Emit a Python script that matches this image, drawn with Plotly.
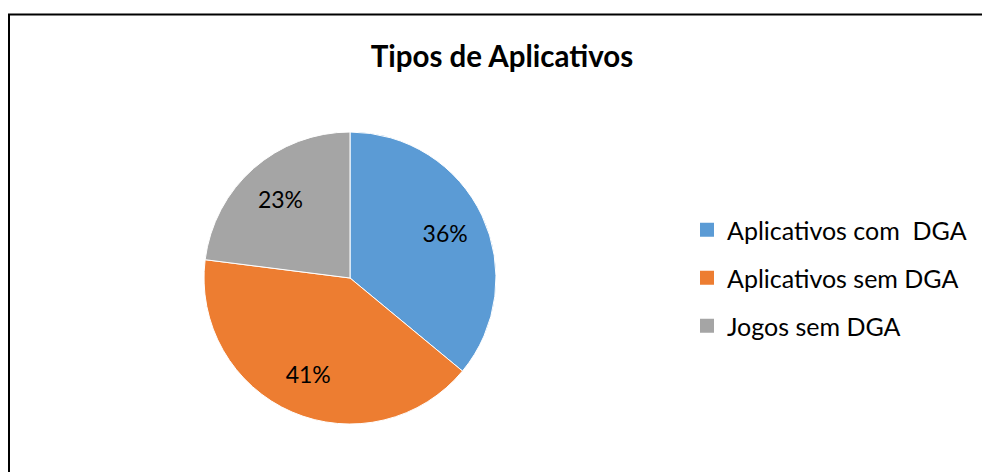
import plotly.graph_objects as go

categories = ["Aplicativos com\u00a0 DGA", "Aplicativos sem DGA", "Jogos sem DGA"]
values = [36, 41, 23]
colors = ["#5B9BD5", "#ED7D31", "#A5A5A5"]
title_text = "Tipos de Aplicativos"

W, H = 982, 472
FONT = "Lato, Calibri, Carlito, sans-serif"

fig = go.Figure()

cx, cy, r = 350, 278, 146
domain = dict(x=[(cx - r) / W, (cx + r) / W], y=[1 - (cy + r) / H, 1 - (cy - r) / H])

# filled pie (no text)
fig.add_trace(go.Pie(
    labels=categories, values=values, sort=False, direction="clockwise", rotation=0,
    marker=dict(colors=colors, line=dict(color="white", width=1)),
    textinfo="none", showlegend=False, hoverinfo="label+percent", domain=domain,
))
# transparent ring carrying the percentage labels further out in each slice
fig.add_trace(go.Pie(
    labels=categories, values=values, sort=False, direction="clockwise", rotation=0,
    hole=0.44,
    marker=dict(colors=["rgba(0,0,0,0)"] * len(values), line=dict(width=0)),
    textinfo="percent", textposition="inside", insidetextorientation="horizontal",
    textfont=dict(family=FONT, size=23, color="black"),
    showlegend=False, hoverinfo="skip", domain=domain,
))

# legend entries (one per category)
for i, (name, col) in enumerate(zip(categories, colors)):
    fig.add_trace(go.Scatter(
        x=[None], y=[None], mode="markers", name=name,
        marker=dict(symbol="square", size=14, color=col),
        legendgroup=f"g{i}", showlegend=True, hoverinfo="skip",
    ))

fig.update_layout(
    width=W, height=H,
    margin=dict(l=0, r=0, t=0, b=0),
    paper_bgcolor="white",
    plot_bgcolor="white",
    font=dict(family=FONT, color="black"),
    title=dict(text=f"<b>{title_text}</b>", x=502 / W, xanchor="center",
               y=1 - 57 / H, yanchor="middle",
               font=dict(family=FONT, size=29.5, color="black")),
    xaxis=dict(visible=False),
    yaxis=dict(visible=False),
    legend=dict(
        x=687 / W, xanchor="left", y=1 - 278 / H, yanchor="middle",
        font=dict(family=FONT, size=25, color="black"),
        traceorder="grouped", tracegroupgap=12.5,
        bgcolor="rgba(0,0,0,0)", itemclick=False, itemdoubleclick=False,
    ),
    shapes=[dict(type="rect", xref="paper", yref="paper",
                 x0=9 / W, x1=990 / W, y0=-10 / H, y1=1 - 14.5 / H,
                 line=dict(color="black", width=2), fillcolor="rgba(0,0,0,0)")],
)

fig.write_html("out.html")
